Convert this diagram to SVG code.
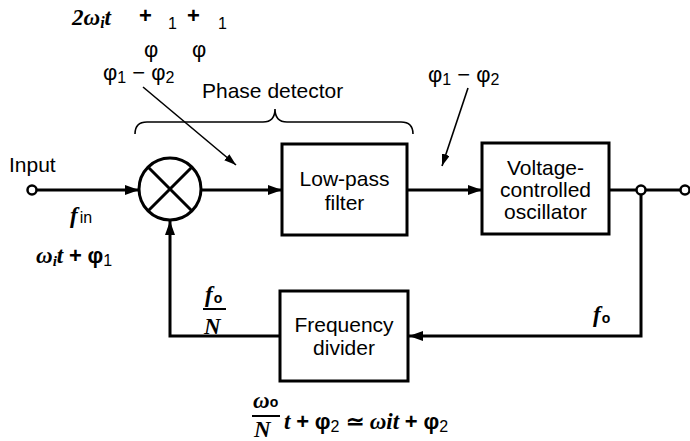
<svg xmlns="http://www.w3.org/2000/svg" width="690" height="441" viewBox="0 0 690 441">
<style>
.box{fill:#fff;stroke:#000;stroke-width:3}
.ln{fill:none;stroke:#000;stroke-width:3}
.thin{fill:none;stroke:#000;stroke-width:1.6}
.lbl{font-family:"Liberation Sans",Arial,sans-serif;font-size:21px;fill:#000}
.m{font-family:"Liberation Serif","Times New Roman",serif;font-style:italic;font-weight:bold;font-size:23px;fill:#000}
.s{font-family:"Liberation Sans",Arial,sans-serif;font-size:22px;fill:#000;font-style:normal}
.ss{font-family:"Liberation Sans",Arial,sans-serif;font-size:16px;fill:#000;font-style:normal;font-weight:normal}
.so{font-family:"Liberation Sans",Arial,sans-serif;font-size:14px;fill:#000;font-style:normal;font-weight:bold}
.term{fill:#fff;stroke:#000;stroke-width:2.5}
</style>
<defs>
<marker id="ah" viewBox="0 0 14 10" refX="14" refY="5" markerWidth="14" markerHeight="10" markerUnits="userSpaceOnUse" orient="auto">
<path d="M0,0 L14,5 L0,10 Z" fill="#000"/>
</marker>
<marker id="ahs" viewBox="0 0 12 8" refX="12" refY="4" markerWidth="12" markerHeight="8" markerUnits="userSpaceOnUse" orient="auto">
<path d="M0,0 L12,4 L0,8 Z" fill="#000"/>
</marker>
</defs>

<g id="connectors">
<line class="ln" x1="36" y1="190" x2="139" y2="190" marker-end="url(#ah)"/>
<line class="ln" x1="201" y1="190" x2="282" y2="190" marker-end="url(#ah)"/>
<line class="ln" x1="407" y1="190" x2="482" y2="190" marker-end="url(#ah)"/>
<line class="ln" x1="609" y1="190" x2="637" y2="190"/>
<line class="ln" x1="645" y1="190" x2="681" y2="190"/>
<polyline class="ln" points="641,194 641,336 409,336" marker-end="url(#ah)"/>
<polyline class="ln" points="280,336 170,336 170,221" marker-end="url(#ah)"/>
<line class="thin" x1="143" y1="87" x2="236" y2="165" marker-end="url(#ahs)"/>
<line class="thin" x1="468" y1="88" x2="442" y2="166" marker-end="url(#ahs)"/>
<circle class="term" cx="32" cy="190" r="4.5"/>
<circle class="term" cx="641" cy="190" r="4.5"/>
<circle class="term" cx="685" cy="190" r="4.5"/>
</g>

<g id="mixer">
<circle class="ln" cx="170" cy="189" r="31"/>
<line class="ln" x1="148" y1="167" x2="192" y2="211"/>
<line class="ln" x1="192" y1="167" x2="148" y2="211"/>
</g>

<g id="phase-detector">
<path class="thin" d="M135,134 Q135,122 147,122 L263,122 Q275,122 275,109 Q275,122 287,122 L401,122 Q413,122 413,134" stroke-width="1.8"/>
<text class="lbl" x="202" y="98">Phase detector</text>
</g>

<g id="lpf">
<rect class="box" x="282" y="144" width="125" height="91"/>
<text class="lbl" x="344.5" y="186" text-anchor="middle">Low-pass</text>
<text class="lbl" x="344.5" y="210" text-anchor="middle">filter</text>
</g>

<g id="vco">
<rect class="box" x="482" y="143" width="127" height="91"/>
<text class="lbl" x="545.5" y="175" text-anchor="middle">Voltage-</text>
<text class="lbl" x="545.5" y="197" text-anchor="middle">controlled</text>
<text class="lbl" x="545.5" y="219" text-anchor="middle">oscillator</text>
</g>

<g id="divider">
<rect class="box" x="280" y="291" width="128" height="90"/>
<text class="lbl" x="344" y="332" text-anchor="middle">Frequency</text>
<text class="lbl" x="344" y="355" text-anchor="middle">divider</text>
</g>

<g id="labels">
<text class="lbl" x="9" y="172">Input</text>
<text class="m" x="70" y="223">f<tspan class="ss" font-size="18" dx="2">in</tspan></text>
<text class="m" x="36" y="263">ω<tspan font-size="15" dy="3">i</tspan><tspan dy="-3">t</tspan> <tspan class="s" font-weight="bold" font-size="20">+</tspan> <tspan class="s">φ</tspan><tspan class="ss" dy="3">1</tspan></text>

<text class="m" x="72" y="25" font-size="25">2ω<tspan font-size="16" dy="3">i</tspan><tspan dy="-3">t</tspan></text>
<text class="s" x="139" y="23" font-weight="bold">+</text>
<text class="ss" x="168" y="29" font-size="17">1</text>
<text class="s" x="187" y="23" font-weight="bold">+</text>
<text class="ss" x="218" y="29" font-size="17">1</text>
<text class="s" x="144" y="57" font-size="24">φ</text>
<text class="s" x="192" y="57" font-size="24">φ</text>
<text class="s" x="103" y="80">φ<tspan class="ss" font-size="17" dy="3">1</tspan><tspan dy="-3"> − </tspan>φ<tspan class="ss" font-size="17" dy="3">2</tspan></text>
<text class="s" x="428" y="82">φ<tspan class="ss" font-size="17" dy="3">1</tspan><tspan dy="-3"> − </tspan>φ<tspan class="ss" font-size="17" dy="3">2</tspan></text>

<text class="m" x="205" y="302">f<tspan class="so" dx="1" dy="1">o</tspan></text>
<line x1="203" y1="309" x2="226" y2="309" stroke="#000" stroke-width="2"/>
<text class="m" x="204" y="334">N</text>

<text class="m" x="593" y="322">f<tspan class="so" dx="1" dy="1">o</tspan></text>

<text class="m" x="253" y="408">ω<tspan class="so" dy="-1">o</tspan></text>
<line x1="252" y1="416" x2="280" y2="416" stroke="#000" stroke-width="2"/>
<text class="m" x="254" y="437">N</text>
<text class="m" x="284" y="429">t <tspan class="s" font-weight="bold" font-size="20">+</tspan> <tspan class="s">φ</tspan><tspan class="ss" dy="3">2</tspan><tspan class="s" dy="-3"> ≃ </tspan>ωit <tspan class="s" font-weight="bold" font-size="20">+</tspan> <tspan class="s">φ</tspan><tspan class="ss" dy="3">2</tspan></text>
</g>
</svg>
